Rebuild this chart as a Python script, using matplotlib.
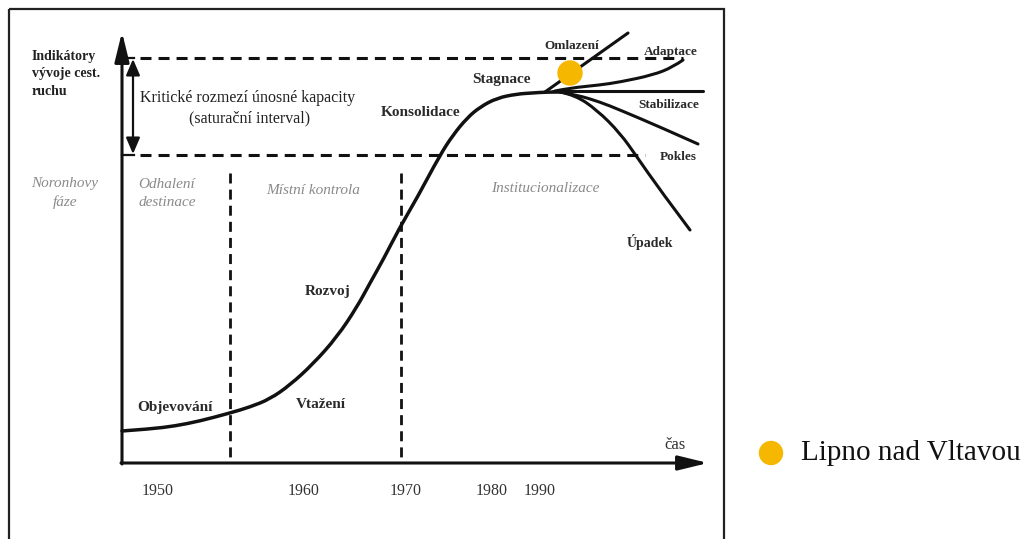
import matplotlib.pyplot as plt
from matplotlib.patches import Circle, Rectangle, PathPatch
from matplotlib.path import Path

# all coordinates (pixel units, y down)
main_x = [122, 150, 175, 200, 230, 250, 270, 290, 313, 337, 357, 370, 383, 400, 417,
          440, 453, 467, 480, 497, 517, 532, 547, 560]
main_y = [431, 429, 426, 421, 413, 407, 399, 385, 364, 337, 307, 283, 260, 227, 198,
          155, 135, 118, 107, 98, 94, 93, 92, 92]

omlazeni_x = [545, 628]
omlazeni_y = [92, 33]
adaptace_x = [555, 570, 600, 620, 653, 673, 683]
adaptace_y = [91, 88, 85, 82, 75, 67, 60]
stabilizace_x = [553, 703]
stabilizace_y = [91, 91]
pokles_x = [560, 577, 600, 620, 660, 698]
pokles_y = [92, 95, 102, 110, 127, 144]
upadek_x = [560, 575, 597, 620, 637, 660, 690]
upadek_y = [92, 95, 110, 133, 157, 190, 230]

capacity_top = 58
capacity_bottom = 155
phase_lines_x = [230, 401]

years = ['1950', '1960', '1970', '1980', '1990']
years_x = [158, 304, 406, 492, 540]

lipno_point = (570, 73)

stage_labels = [
    ('Objevování', 175, 408, 11),
    ('Vtažení', 321, 404, 11),
    ('Rozvoj', 328, 291, 11),
    ('Konsolidace', 421, 112, 11),
    ('Stagnace', 501, 80, 11),
    ('Omlazení', 572, 46, 9.5),
    ('Adaptace', 671, 52, 9.5),
    ('Stabilizace', 669, 105, 9.5),
    ('Pokles', 678, 157, 9.5),
    ('Úpadek', 650, 242, 10),
]
phase_labels = [
    ('Noronhovy\nfáze', 65, 193),
    ('Odhalení\ndestinace', 167, 193),
    ('Místní kontrola', 313, 190),
    ('Institucionalizace', 545, 189),
]

serif = 'Liberation Serif'
ink = '#111111'


def smooth_line(ax, xs, ys, lw):
    # quadratic bezier pieces, the read points act as control points
    pts = list(zip(xs, ys))
    if len(pts) < 3:
        ax.plot(xs, ys, color=ink, lw=lw, solid_capstyle='round')
        return
    verts = [pts[0]]
    codes = [Path.MOVETO]
    for i in range(1, len(pts) - 2):
        mid = ((pts[i][0] + pts[i + 1][0]) / 2, (pts[i][1] + pts[i + 1][1]) / 2)
        verts += [pts[i], mid]
        codes += [Path.CURVE3, Path.CURVE3]
    verts += [pts[-2], pts[-1]]
    codes += [Path.CURVE3, Path.CURVE3]
    ax.add_patch(PathPatch(Path(verts, codes), fill=False, edgecolor=ink, lw=lw,
                           capstyle='round'))


fig = plt.figure(figsize=(10.29, 5.39), dpi=100)
ax = fig.add_axes([0, 0, 1, 1])
ax.set_xlim(0, 1029)
ax.set_ylim(539, 0)
ax.axis('off')

# frame around the diagram
ax.add_patch(Rectangle((9, 9), 715, 540, fill=False, lw=1.6, edgecolor='#222222'))

# axes with arrows
ax.annotate('', xy=(708, 463), xytext=(121, 463),
            arrowprops=dict(arrowstyle='-|>,head_length=0.9,head_width=0.22',
                            lw=2.2, color=ink, mutation_scale=20, shrinkA=0, shrinkB=0))
ax.annotate('', xy=(122, 32), xytext=(122, 464),
            arrowprops=dict(arrowstyle='-|>,head_length=0.9,head_width=0.22',
                            lw=2.2, color=ink, mutation_scale=20, shrinkA=0, shrinkB=0))

# carrying capacity range
ax.plot([140, 683], [capacity_top] * 2, color=ink, lw=2.2, dashes=(3.6, 2.3))
ax.plot([140, 645], [capacity_bottom] * 2, color=ink, lw=2.2, dashes=(3.6, 2.3))
ax.plot([122, 134], [capacity_top] * 2, color=ink, lw=1.6)
ax.plot([122, 134], [capacity_bottom] * 2, color=ink, lw=1.6)
ax.annotate('', xy=(133, capacity_top + 1), xytext=(133, capacity_bottom - 1),
            arrowprops=dict(arrowstyle='<|-|>,head_length=0.7,head_width=0.3',
                            lw=1.6, color=ink, mutation_scale=14, shrinkA=0, shrinkB=0))
ax.text(248, 98, 'Kritické rozmezí únosné kapacity', family=serif, fontsize=11.5,
        color='#222222', ha='center', va='center')
ax.text(250, 118, '(saturační interval)', family=serif, fontsize=11.5,
        color='#222222', ha='center', va='center')

# phase boundaries
for px in phase_lines_x:
    ax.plot([px, px], [173, 463], color=ink, lw=2.0, dashes=(3.6, 2.2))

# life cycle curve and its branches
smooth_line(ax, main_x, main_y, 2.5)
for bx, by in [(omlazeni_x, omlazeni_y), (adaptace_x, adaptace_y),
               (stabilizace_x, stabilizace_y), (pokles_x, pokles_y),
               (upadek_x, upadek_y)]:
    smooth_line(ax, bx, by, 2.2)

ax.add_patch(Circle(lipno_point, 12, color='#F5B700', zorder=5))

# labels
ax.text(32, 74, 'Indikátory\nvývoje cest.\nruchu', family=serif, fontsize=10,
        fontweight='bold', color='#222222', ha='left', va='center', linespacing=1.45)
for txt, tx, ty, fs in stage_labels:
    ax.text(tx, ty, txt, family=serif, fontsize=fs, fontweight='bold',
            color='#2a2a2a', ha='center', va='center')
for txt, tx, ty in phase_labels:
    ax.text(tx, ty, txt, family=serif, fontsize=11, style='italic',
            color='#8a8a8a', ha='center', va='center', linespacing=1.5)
for yr, yx in zip(years, years_x):
    ax.text(yx, 491, yr, family=serif, fontsize=11.5, color='#333333',
            ha='center', va='center')
ax.text(675, 445, 'čas', family=serif, fontsize=12, color='#333333',
        ha='center', va='center')

# legend
ax.add_patch(Circle((771, 453), 11.5, color='#F5B700'))
ax.text(801, 453, 'Lipno nad Vltavou', family=serif, fontsize=21, color='#111111',
        ha='left', va='center')

fig.savefig('out.png', dpi=100)
